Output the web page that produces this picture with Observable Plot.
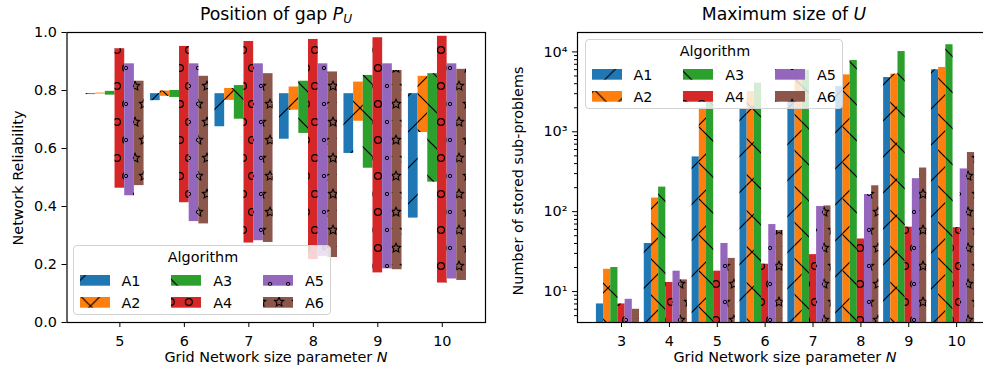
<!DOCTYPE html>
<html><head><meta charset="utf-8">
<script src="https://cdn.jsdelivr.net/npm/d3@7"></script>
<script src="https://cdn.jsdelivr.net/npm/@observablehq/plot@0.6"></script>
<style>
html,body{margin:0;padding:0;overflow:hidden;background:#fff;width:983px;height:372px}
body{font-family:"DejaVu Sans",sans-serif;position:relative;color:#000}
.abs{position:absolute;white-space:nowrap;line-height:1}
#left,#right{width:500px;height:372px}
#left svg,#right svg{max-width:none !important}
.title{font-size:17.3px;transform:translateX(-50%)}
.lbl{font-size:14.4px}
.xl{transform:translateX(-50%)}
.yl{transform:translate(-50%,-50%) rotate(-90deg)}
.legend{position:absolute;border:1px solid #d3d3d3;border-radius:4px;background:rgba(255,255,255,0.8);box-sizing:border-box;width:258px;height:70px}
.legend span{position:absolute;font-size:14.4px;line-height:1;white-space:nowrap}
.legend svg{position:absolute}
</style></head><body>
<svg width="0" height="0" style="position:absolute;left:0;top:0"><defs id="hatchdefs"></defs></svg>
<div id="left" class="abs" style="left:0;top:0"></div>
<div id="right" class="abs" style="left:500px;top:0"></div>
<div class="abs title" style="left:276px;top:5.5px">Position of gap <i>P</i><sub style="font-size:0.7em;font-style:italic;vertical-align:-0.25em;line-height:0">U</sub></div>
<div class="abs title" style="left:784px;top:6px">Maximum size of <i>U</i></div>
<div class="abs lbl xl" style="left:276px;top:350px">Grid Network size parameter <i>N</i></div>
<div class="abs lbl xl" style="left:785px;top:350px">Grid Network size parameter <i>N</i></div>
<div class="abs lbl yl" style="left:17.6px;top:178px">Network Reliability</div>
<div class="abs lbl yl" style="left:517.6px;top:181px">Number of stored sub-problems</div>
<div id="legL" class="legend" style="left:73px;top:245px"></div>
<div id="legR" class="legend" style="left:585px;top:39px"></div>
<script>
// ---- data ----
const algorithms = ["A1", "A2", "A3", "A4", "A5", "A6"];

const gapN = [5, 6, 7, 8, 9, 10];
const gapLowA1  = [0.786, 0.765, 0.675, 0.632, 0.583, 0.360];
const gapHighA1 = [0.789, 0.789, 0.789, 0.789, 0.789, 0.789];
const gapLowA2  = [0.788, 0.780, 0.766, 0.732, 0.694, 0.655];
const gapHighA2 = [0.791, 0.798, 0.807, 0.812, 0.829, 0.849];
const gapLowA3  = [0.784, 0.776, 0.701, 0.652, 0.532, 0.484];
const gapHighA3 = [0.797, 0.800, 0.817, 0.832, 0.852, 0.858];
const gapLowA4  = [0.463, 0.413, 0.274, 0.217, 0.171, 0.136];
const gapHighA4 = [0.944, 0.952, 0.969, 0.976, 0.982, 0.987];
const gapLowA5  = [0.437, 0.348, 0.282, 0.228, 0.185, 0.150];
const gapHighA5 = [0.892, 0.892, 0.892, 0.892, 0.892, 0.892];
const gapLowA6  = [0.472, 0.340, 0.276, 0.224, 0.182, 0.145];
const gapHighA6 = [0.832, 0.849, 0.858, 0.864, 0.869, 0.873];
const gapTicks = [0, 0.2, 0.4, 0.6, 0.8, 1.0];

const sizeN = [3, 4, 5, 6, 7, 8, 9, 10];
const sizeA1 = [7, 40, 485, 1950, 2900, 3680, 4780, 5970];
const sizeA2 = [19, 148, 2000, 3180, 4450, 5160, 5260, 6390];
const sizeA3 = [20, 203, 2600, 4060, 5900, 7820, 10100, 12300];
const sizeA4 = [7, 13, 18, 22, 29, 45.5, 64, 63];
const sizeA5 = [8, 18, 40, 69, 116, 164, 259, 343];
const sizeA6 = [6, 14, 26, 58, 118, 211, 352, 550];
const sizeMajorTicks = [10, 100, 1000, 10000];
const sizeTickLabels = ["10¹", "10²", "10³", "10⁴"];
const sizeMinorTicks = [5, 6, 7, 8, 9, 20, 30, 40, 50, 60, 70, 80, 90,
  200, 300, 400, 500, 600, 700, 800, 900, 2000, 3000, 4000, 5000, 6000, 7000, 8000, 9000];

// ---- style ----
const colors = ["#1f77b4", "#ff7f0e", "#2ca02c", "#d62728", "#9467bd", "#8c564b"];
const hatchIds = ["h-fwd", "h-x", "h-back", "h-o", "h-dot", "h-star"];
const barW = 0.15;

// hatch patterns
(function () {
  const defs = d3.select("#hatchdefs");
  const sw = 1.2;
  function linePat(id, d) {
    const p = defs.append("pattern").attr("id", id).attr("patternUnits", "userSpaceOnUse")
      .attr("width", 36).attr("height", 36);
    p.append("path").attr("d", d).attr("stroke", "#000").attr("stroke-width", sw).attr("fill", "none");
  }
  const fwd = "M-9,9L9,-9M0,36L36,0M27,45L45,27";
  const back = "M-9,27L9,45M0,0L36,36M27,-9L45,9";
  linePat("h-fwd", fwd);
  linePat("h-back", back);
  linePat("h-x", fwd + back);
  const pts = [[0, 0], [18, 0], [0, 36], [18, 36], [9, 18]];
  function shapePat(id, draw) {
    const p = defs.append("pattern").attr("id", id).attr("patternUnits", "userSpaceOnUse")
      .attr("width", 18).attr("height", 36).attr("y", -4);
    pts.forEach(([x, y]) => draw(p, x, y));
  }
  shapePat("h-o", (p, x, y) => p.append("circle").attr("cx", x).attr("cy", y).attr("r", 3.4)
    .attr("fill", "none").attr("stroke", "#000").attr("stroke-width", 1.2));
  shapePat("h-dot", (p, x, y) => p.append("circle").attr("cx", x).attr("cy", y).attr("r", 1.7)
    .attr("fill", "none").attr("stroke", "#000").attr("stroke-width", 1.0));
  function star(cx, cy, R, r) {
    let s = "";
    for (let k = 0; k < 10; k++) {
      const a = -Math.PI / 2 + k * Math.PI / 5;
      const rr = k % 2 ? r : R;
      s += (k ? "L" : "M") + (cx + rr * Math.cos(a)).toFixed(2) + "," + (cy + rr * Math.sin(a)).toFixed(2);
    }
    return s + "Z";
  }
  shapePat("h-star", (p, x, y) => p.append("path").attr("d", star(x, y, 4.8, 2.3))
    .attr("fill", "none").attr("stroke", "#000").attr("stroke-width", 1.1));
})();

// ---- tables ----
const gapLow = [gapLowA1, gapLowA2, gapLowA3, gapLowA4, gapLowA5, gapLowA6];
const gapHigh = [gapHighA1, gapHighA2, gapHighA3, gapHighA4, gapHighA5, gapHighA6];
const gapRows = algorithms.flatMap((alg, i) => gapN.map((N, j) => ({alg, i, N, lo: gapLow[i][j], hi: gapHigh[i][j]})));
const sizes = [sizeA1, sizeA2, sizeA3, sizeA4, sizeA5, sizeA6];
const sizeRows = algorithms.flatMap((alg, i) => sizeN.map((N, j) => ({alg, i, N, v: sizes[i][j]})));

const x1 = d => d.N + (d.i - 3.5) * barW;
const x2 = d => d.N + (d.i - 2.5) * barW;
const style = {fontFamily: "DejaVu Sans", fontSize: "14.4px", color: "#000", background: "transparent", overflow: "visible", maxWidth: "none"};

const left = Plot.plot({
  width: 492, height: 372,
  marginLeft: 66.5, marginRight: 7, marginTop: 32, marginBottom: 50,
  x: {domain: [4.18, 10.67]},
  y: {domain: [0, 1]},
  style,
  marks: [
    ...algorithms.flatMap((a, i) => {
      const rows = gapRows.filter(d => d.alg === a);
      return [
        Plot.rect(rows, {x1, x2, y1: "lo", y2: "hi", fill: colors[i]}),
        Plot.rect(rows, {x1, x2, y1: "lo", y2: "hi", fill: `url(#${hatchIds[i]})`})
      ];
    }),
    Plot.axisX({ticks: gapN, tickSize: 5, tickPadding: 8, tickFormat: d => String(d), label: null}),
    Plot.axisY({ticks: gapTicks, tickSize: 5, tickPadding: 5, tickFormat: d3.format(".1f"), label: null}),
    Plot.frame({stroke: "#000", strokeWidth: 1.2})
  ]
});
document.getElementById("left").appendChild(left);

const right = Plot.plot({
  width: 500, height: 372,
  marginLeft: 77, marginRight: 7, marginTop: 32, marginBottom: 50,
  x: {domain: [2.08, 10.77]},
  y: {type: "log", domain: [4.1, 17500]},
  style,
  marks: [
    ...algorithms.flatMap((a, i) => {
      const rows = sizeRows.filter(d => d.alg === a);
      return [
        Plot.rect(rows, {x1, x2, y1: 1, y2: "v", fill: colors[i], clip: true}),
        Plot.rect(rows, {x1, x2, y1: 1, y2: "v", fill: `url(#${hatchIds[i]})`, clip: true})
      ];
    }),
    Plot.axisX({ticks: sizeN, tickSize: 5, tickPadding: 8, tickFormat: d => String(d), label: null}),
    Plot.axisY({ticks: sizeMinorTicks, tickSize: 3, tickFormat: () => "", label: null}),
    Plot.axisY({ticks: sizeMajorTicks, tickSize: 5, tickPadding: 5, tickFormat: (d) => sizeTickLabels[sizeMajorTicks.indexOf(d)], label: null}),
    Plot.frame({stroke: "#000", strokeWidth: 1.2})
  ]
});
document.getElementById("right").appendChild(right);

// ---- legends ----
function buildLegend(id, boxX, boxY) {
  const el = document.getElementById(id);
  const t = document.createElement("span");
  t.textContent = "Algorithm";
  t.style.left = "129px"; t.style.top = (16 - 12.2) + "px"; t.style.transform = "translateX(-50%)";
  el.appendChild(t);
  algorithms.forEach((a, i) => {
    const col = Math.floor(i / 2), row = i % 2;
    const sx = 5.5 + col * 91.7, sy = 29 + row * 22;
    const ns = "http://www.w3.org/2000/svg";
    const s = document.createElementNS(ns, "svg");
    s.setAttribute("width", 30); s.setAttribute("height", 10.7);
    const px = boxX + 1 + sx, py = boxY + 1 + sy;
    s.setAttribute("viewBox", `${px} ${py} 30 10.7`);
    s.style.left = sx + "px"; s.style.top = sy + "px";
    [colors[i], `url(#${hatchIds[i]})`].forEach(f => {
      const r = document.createElementNS(ns, "rect");
      r.setAttribute("x", px); r.setAttribute("y", py); r.setAttribute("width", 30); r.setAttribute("height", 10.7);
      r.setAttribute("fill", f);
      s.appendChild(r);
    });
    el.appendChild(s);
    const l = document.createElement("span");
    l.textContent = a;
    l.style.left = (sx + 42) + "px"; l.style.top = (sy + 10.8 - 12.2) + "px";
    el.appendChild(l);
  });
}
buildLegend("legL", 73, 245);
buildLegend("legR", 585, 39);
</script>
</body></html>
